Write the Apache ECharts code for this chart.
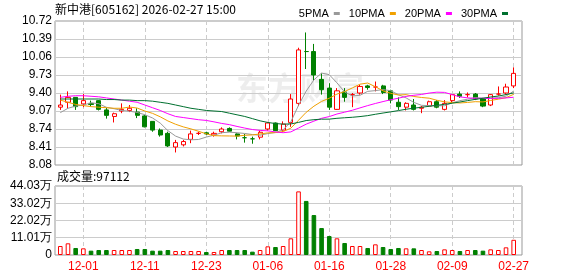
<!DOCTYPE html>
<html><head><meta charset="utf-8">
<script src="https://cdn.jsdelivr.net/npm/echarts@6/dist/echarts.min.js"></script>
<style>html,body{margin:0;padding:0;background:#fff}#c{width:578px;height:276px}</style>
</head><body><div id="c"></div>
<script>
const dates = ['11-26','11-27','11-28','12-01','12-02','12-03','12-04','12-05','12-08','12-09','12-10','12-11','12-12','12-15','12-16','12-17','12-18','12-19','12-22','12-23','12-24','12-25','12-26','12-29','12-30','12-31','01-05','01-06','01-07','01-08','01-09','01-12','01-13','01-14','01-15','01-16','01-19','01-20','01-21','01-22','01-23','01-26','01-27','01-28','01-29','01-30','02-02','02-03','02-04','02-05','02-06','02-09','02-10','02-11','02-12','02-13','02-24','02-25','02-26','02-27'];
const opens  = [9.14,9.23,9.32,9.20,9.21,9.26,9.09,8.97,9.07,9.08,9.05,8.98,8.88,8.72,8.66,8.41,8.45,8.55,8.66,8.67,8.63,8.69,8.75,8.65,8.58,8.56,8.59,8.74,8.85,8.72,8.86,9.21,10.16,10.16,9.65,9.49,9.10,9.42,9.37,9.40,9.53,9.51,9.53,9.44,9.23,9.14,9.18,9.12,9.16,9.24,9.10,9.26,9.38,9.37,9.38,9.29,9.18,9.38,9.40,9.53];
const closes = [9.18,9.32,9.15,9.26,9.19,9.10,8.99,9.02,9.10,9.12,8.99,8.78,8.72,8.63,8.43,8.49,8.51,8.65,8.66,8.65,8.66,8.74,8.70,8.61,8.58,8.56,8.68,8.85,8.71,8.83,9.29,10.19,10.16,9.73,9.46,9.14,9.44,9.32,9.37,9.52,9.50,9.51,9.41,9.27,9.15,9.21,9.10,9.14,9.24,9.14,9.21,9.37,9.34,9.37,9.29,9.16,9.37,9.38,9.51,9.76];
const lows   = [9.09,9.12,9.09,9.14,9.16,9.08,8.93,8.86,9.03,9.05,8.94,8.77,8.69,8.60,8.41,8.31,8.42,8.48,8.63,8.63,8.60,8.66,8.69,8.55,8.49,8.47,8.55,8.71,8.70,8.69,8.78,9.16,9.84,9.62,9.37,9.09,9.09,9.24,9.14,9.37,9.46,9.43,9.38,9.21,9.09,9.08,9.08,9.03,9.15,9.12,9.08,9.23,9.31,9.32,9.27,9.14,9.16,9.35,9.37,9.49];
const highs  = [9.37,9.43,9.32,9.38,9.26,9.27,9.13,9.04,9.21,9.18,9.12,9.00,8.88,8.75,8.69,8.54,8.54,8.71,8.69,8.69,8.69,8.77,8.77,8.66,8.65,8.60,8.71,8.87,8.86,8.88,9.38,10.23,10.51,10.30,9.76,9.58,9.49,9.49,9.40,9.55,9.55,9.61,9.55,9.46,9.32,9.23,9.29,9.16,9.26,9.27,9.27,9.38,9.43,9.41,9.40,9.31,9.38,9.52,9.57,9.87];
const volumes = [5.74,7.45,4.47,4.25,2.77,3.19,3.19,3.19,3.19,3.19,3.83,3.83,2.77,2.77,3.19,2.55,2.55,2.55,2.55,1.91,1.91,3.19,3.19,3.19,3.19,2.13,3.19,5.53,5.10,5.74,10.64,40.6,34.5,25.5,17.2,12.1,10.64,7.66,5.74,5.74,4.47,6.8,5.1,3.83,4.47,4.25,4.25,3.19,2.34,2.55,3.6,3.19,2.55,3.19,3.19,2.77,3.6,3.19,4.89,9.7112];
const ma5  = [9.04,9.12,9.16,9.18,9.22,9.204,9.138,9.112,9.08,9.066,9.044,9.002,8.942,8.848,8.71,8.61,8.556,8.542,8.548,8.592,8.626,8.672,8.682,8.672,8.658,8.638,8.626,8.656,8.676,8.726,8.872,9.174,9.436,9.64,9.766,9.736,9.586,9.418,9.346,9.358,9.43,9.444,9.462,9.442,9.368,9.31,9.228,9.174,9.168,9.166,9.166,9.22,9.26,9.286,9.316,9.306,9.306,9.314,9.342,9.436];
const ma10 = [9.27,9.23,9.19,9.17,9.15,9.14,9.13,9.12,9.12,9.143,9.124,9.07,9.027,8.964,8.888,8.827,8.779,8.742,8.698,8.651,8.618,8.614,8.612,8.61,8.625,8.632,8.649,8.669,8.674,8.692,8.755,8.90,9.046,9.158,9.246,9.304,9.38,9.427,9.493,9.562,9.583,9.515,9.44,9.394,9.363,9.37,9.336,9.318,9.305,9.267,9.238,9.224,9.217,9.227,9.241,9.236,9.263,9.287,9.314,9.376];
const ma20 = [9.32,9.34,9.35,9.35,9.34,9.33,9.31,9.29,9.27,9.25,9.23,9.18,9.13,9.08,9.02,8.97,8.95,8.93,8.91,8.897,8.871,8.842,8.82,8.787,8.757,8.73,8.714,8.706,8.686,8.672,8.687,8.757,8.829,8.884,8.936,8.968,9.015,9.048,9.084,9.127,9.169,9.208,9.243,9.276,9.305,9.337,9.358,9.373,9.399,9.415,9.411,9.37,9.329,9.311,9.302,9.303,9.30,9.303,9.31,9.322];
const ma30 = [9.29,9.29,9.29,9.29,9.29,9.29,9.28,9.28,9.27,9.27,9.26,9.26,9.25,9.23,9.21,9.18,9.15,9.12,9.10,9.08,9.07,9.06,9.03,9.00,8.97,8.93,8.89,8.86,8.84,8.829,8.833,8.861,8.895,8.911,8.92,8.921,8.936,8.946,8.955,8.968,8.985,9.01,9.033,9.054,9.078,9.102,9.122,9.138,9.157,9.174,9.192,9.213,9.235,9.26,9.283,9.303,9.327,9.344,9.371,9.402];
const priceTicks = [8.08,8.41,8.74,9.07,9.40,9.73,10.06,10.39,10.72];
const volTicks = [0,11.01,22.02,33.02,44.03];
const dateTicks = ['12-01','12-11','12-23','01-06','01-16','01-28','02-09','02-27'];
const maNames = ['5PMA','10PMA','20PMA','30PMA'];
const titleText = '新中港[605162] 2026-02-27 15:00';
const volTitle = '成交量:97112';
const watermark = '东方财富';

const tickIdx = dateTicks.map(d => dates.indexOf(d));
function isUp(i){ if (closes[i] !== opens[i]) return closes[i] > opens[i]; return i === 0 || closes[i] >= closes[i-1]; }
const RED = '#ff0000', GREEN = '#008000';
const candleData = dates.map((d,i) => [i, opens[i], closes[i], lows[i], highs[i]]);
const volData = volumes.map((v,i) => ({value:[i,v], itemStyle: isUp(i) ? {color:'#fff', borderColor:RED, borderWidth:1} : {color:GREEN, borderColor:GREEN, borderWidth:1}}));
const maColors = ['#999999','#f0a000','#ff00ff','#00702f'];
const maData = [ma5, ma10, ma20, ma30];

const XMIN = -0.69, XMAX = 60.08;
const lab = {fontFamily:'Liberation Sans', fontSize:12};
function xAxis(gi, showLabel){
  return {type:'value', gridIndex:gi, min:XMIN, max:XMAX,
    axisLine:{show:false}, axisTick:{show:false, customValues:tickIdx},
    axisLabel:{show:showLabel, customValues:tickIdx, formatter:v => dates[Math.round(v)], color:RED, margin:6, ...lab},
    splitLine:{show:true, lineStyle:{color:'#cccccc', type:[4,3], width:1}}};
}
const option = {
  animation:false,
  backgroundColor:'#fff',
  grid:[
    {left:55, width:467, top:21, height:144, show:true, borderColor:'#999', borderWidth:1, outerBoundsMode:'none'},
    {left:55, width:467, top:186, height:69, show:true, borderColor:'#999', borderWidth:1, outerBoundsMode:'none'}
  ],
  legend:{data:maNames, right:65, top:3, icon:'rect', itemWidth:6, itemHeight:3, itemGap:9, align:'right',
    textStyle:{color:'#000', fontSize:11, fontFamily:'Liberation Sans'}},
  xAxis:[xAxis(0,false), xAxis(1,true)],
  yAxis:[
    {type:'value', gridIndex:0, min:priceTicks[0], max:priceTicks[priceTicks.length-1],
      axisLine:{show:false}, axisTick:{show:false, customValues:priceTicks},
      axisLabel:{customValues:priceTicks, formatter:v => v.toFixed(2), color:'#000', margin:3, ...lab},
      splitLine:{show:true, lineStyle:{color:'#cccccc'}}},
    {type:'value', gridIndex:1, min:0, max:volTicks[volTicks.length-1],
      axisLine:{show:false}, axisTick:{show:false, customValues:volTicks},
      axisLabel:{customValues:volTicks, formatter:v => v === 0 ? '0' : v.toFixed(2) + '万', color:'#000', margin:3, ...lab},
      splitLine:{show:true, lineStyle:{color:'#cccccc'}}}
  ],
  graphic:[
    {type:'text', left:55, top:3, style:{text:titleText, font:'12px "Noto Sans CJK SC"', fill:'#000'}},
    {type:'text', left:57, top:170, style:{text:volTitle, font:'12px "Noto Sans CJK SC"', fill:'#000'}},
    {type:'text', left:236, top:72, z:-10, style:{text:watermark, font:'bold 32px "Noto Sans CJK SC"', fill:'rgba(0,0,0,0.07)'}}
  ],
  series:[
    {type:'candlestick', xAxisIndex:0, yAxisIndex:0, data:candleData, barWidth:4.6,
      itemStyle:{color:'#fff', color0:GREEN, borderColor:RED, borderColor0:GREEN, borderWidth:1}},
    ...maNames.map((n,k) => ({type:'line', name:n, xAxisIndex:0, yAxisIndex:0, showSymbol:false, symbol:'none',
      data:maData[k].map((v,i)=>[i,v]), color:maColors[k], lineStyle:{width:1, color:maColors[k]}, itemStyle:{color:maColors[k]}})),
    {type:'bar', xAxisIndex:1, yAxisIndex:1, data:volData, barWidth:4.6}
  ]
};
const chart = echarts.init(document.getElementById('c'));
chart.setOption(option);
</script>
</body></html>
